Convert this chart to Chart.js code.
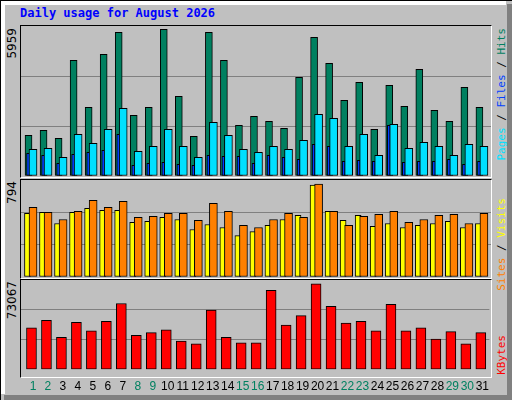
<!DOCTYPE html>
<html>
<head>
<meta charset="utf-8">
<script src="https://cdn.jsdelivr.net/npm/chart.js@4"></script>
<style>
body { margin: 0; }
#frame { position: relative; width: 512px; height: 400px; background: #c0c0c0; overflow: hidden; }
.edge { position: absolute; }
.panel { position: absolute; left: 20px; width: 470px; border-top: 1px solid #000; border-left: 1px solid #000; border-right: 1px solid #fff; border-bottom: 1px solid #fff; box-sizing: content-box; }
canvas { position: absolute; }
.vlab { position: absolute; writing-mode: vertical-rl; transform: rotate(180deg); font-family: "DejaVu Sans Mono", monospace; font-size: 12px; white-space: nowrap; }
#title { position: absolute; left: 20px; top: 6px; font: bold 12px "DejaVu Sans Mono", monospace; color: #0000ff; }
</style>
</head>
<body>
<div id="frame">
  <div class="edge" style="left:0;top:0;width:512px;height:1px;background:#000"></div>
  <div class="edge" style="left:0;top:0;width:1px;height:400px;background:#000"></div>
  <div class="edge" style="left:1px;top:1px;width:505px;height:4px;background:#fff"></div>
  <div class="edge" style="left:1px;top:1px;width:4px;height:393px;background:#fff"></div>
  <div class="edge" style="left:507px;top:4px;width:5px;height:396px;background:#808080"></div>
  <div class="edge" style="left:4px;top:395px;width:508px;height:5px;background:#808080"></div>
  <div id="title">Daily usage for August 2026</div>
  <div class="panel" style="top:25px;height:151px"></div>
  <div class="panel" style="top:179px;height:98px"></div>
  <div class="panel" style="top:279px;height:97px"></div>
  <div class="vlab" style="left:5px;top:28px;color:#000;font-family:'DejaVu Sans';">5959</div>
  <div class="vlab" style="left:5px;top:181px;color:#000;font-family:'DejaVu Sans';">794</div>
  <div class="vlab" style="left:5px;top:281px;color:#000;font-family:'DejaVu Sans';">73067</div>
  <div class="vlab" style="left:495px;top:28px;font-size:11px;"><span style="color:#00e0ff">Pages</span> / <span style="color:#0040ff">Files</span> / <span style="color:#008060">Hits</span></div>
  <div class="vlab" style="left:495px;top:198px;font-size:11px;"><span style="color:#ff8000">Sites</span> / <span style="color:#ffff00">Visits</span></div>
  <div class="vlab" style="left:495px;top:335px;font-size:11px;color:#ff0000">KBytes</div>
  <canvas id="c1" style="left:21px;top:26px" width="470" height="150"></canvas>
  <canvas id="c2" style="left:21px;top:180px" width="470" height="97"></canvas>
  <canvas id="c3" style="left:21px;top:280px" width="470" height="116"></canvas>
</div>
<script>
// values
const days = [1,2,3,4,5,6,7,8,9,10,11,12,13,14,15,16,17,18,19,20,21,22,23,24,25,26,27,28,29,30,31];
const weekend = [1,2,8,9,15,16,22,23,29,30];
const hits = [1616,1814,1497,4593,2727,4831,5705,2410,2727,5824,3164,1576,5705,4593,2013,2370,
              2172,1894,3918,5506,4474,3005,3720,1854,3601,2767,4236,2608,2172,3521,2727];
const files = [1060,1100,742,1655,1298,1854,2688,981,1179,1854,1179,742,2132,1616,1060,941,
               1179,1060,1417,2449,2291,1179,1655,822,2052,1100,1338,1179,822,1258,1179];
const pages = [901,822,504,861,941,1020,1655,425,504,544,464,425,822,782,782,504,
               822,742,663,1258,1179,584,623,584,2013,544,584,584,663,464,584];
const visits = [571,529,471,538,628,571,620,488,496,521,521,463,604,538,422,405,
                471,521,488,761,538,422,496,513,538,447,471,504,513,438,521];
const sites = [521,529,438,529,562,546,546,447,455,488,471,389,430,405,339,372,
               422,471,504,753,538,463,504,414,438,405,422,438,455,405,438];
const kbytes = [34010,40140,26350,38610,31710,39370,53930,27880,30180,32480,23290,20990,48560,26350,21750,21750,
                64650,36310,43970,70010,51630,37840,39370,31710,53160,31710,34010,24820,30950,20990,30180];
const maxTop = 5959, maxMid = 794, maxBot = 73067;

function pts(vals, off) { return vals.map((v, i) => ({ x: days[i] + off, y: v })); }
function ds(vals, off, color, w) {
  return { data: pts(vals, off), backgroundColor: color, borderColor: '#000', borderWidth: 1,
           borderSkipped: false, barThickness: w, grouped: false };
}
function makeChart(id, sets, max, showX) {
  new Chart(document.getElementById(id), {
    type: 'bar',
    data: { datasets: sets },
    options: {
      responsive: false, animation: false, devicePixelRatio: 1,
      plugins: { legend: { display: false }, tooltip: { enabled: false } },
      layout: { padding: 0 },
      scales: {
        x: {
          type: 'linear', min: 0.2, max: 31.47, offset: false,
          display: showX, border: { display: false }, grid: { display: false },
          afterBuildTicks: a => { a.ticks = days.map(d => ({ value: d })); },
          ticks: {
            padding: 2, autoSkip: false, maxRotation: 0,
            font: { family: 'Liberation Sans', size: 12 },
            color: c => weekend.includes(c.tick.value) ? '#008060' : '#000',
            callback: v => String(v)
          }
        },
        y: {
          min: 0, max: max, display: true,
          border: { display: false },
          afterBuildTicks: a => { a.ticks = [0, max / 3, 2 * max / 3, max].map(v => ({ value: v })); },
          afterFit: a => { a.width = 0; },
          ticks: { display: false },
          grid: { drawTicks: false, lineWidth: 1,
                  color: c => (c.index === 1 || c.index === 2) ? '#808080' : 'rgba(0,0,0,0)' }
        }
      }
    }
  });
}

makeChart('c1', [ds(files, 0.0, '#00e0ff', 8), ds(pages, -0.33, '#0040ff', 3), ds(hits, -0.3, '#008060', 7)], maxTop, false);
makeChart('c2', [ds(visits, 0.0, '#ff8000', 8), ds(sites, -0.37, '#ffff00', 6)], maxMid, false);
makeChart('c3', [ds(kbytes, -0.1, '#ff0000', 10)], maxBot, true);
</script>
</body>
</html>
